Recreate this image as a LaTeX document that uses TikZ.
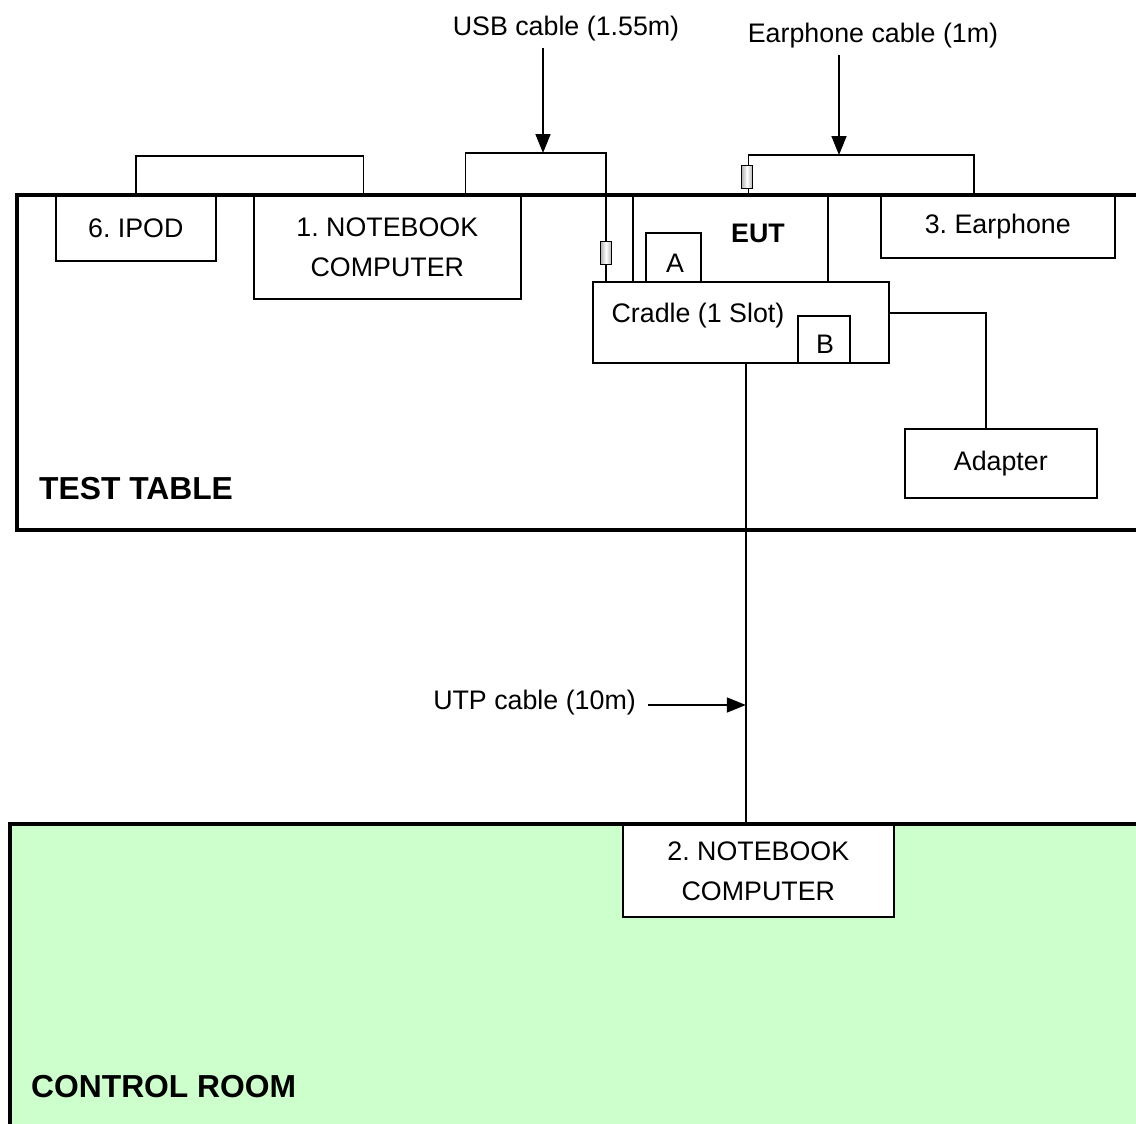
\documentclass[tikz,border=0pt]{standalone}
\usepackage{fontspec}
\setmainfont{Liberation Sans}
\usetikzlibrary{arrows.meta}
\frenchspacing
\definecolor{roomgreen}{HTML}{CCFFCC}
\tikzset{
	box/.style={draw,line width=1.6pt,fill=white,anchor=north west,inner sep=0pt,align=center,font=\fontsize{26.8}{40}\selectfont},
	cable/.style={line width=1.6pt},
	pointer/.style={line width=1.6pt,-{Triangle[length=19pt,width=15pt]}},
	frame/.style={line width=4.5pt},
	ferrite/.style={draw,line width=1.2pt,inner sep=0pt,minimum width=11pt,minimum height=23pt,left color=gray!60,right color=gray!60,middle color=white},
	txt/.style={font=\fontsize{26.8}{40}\selectfont,inner sep=0pt},
	title/.style={font=\fontsize{31.8}{38}\selectfont\bfseries,inner sep=0pt,anchor=west}
}
\begin{document}
\begin{tikzpicture}[x=1pt,y=-1pt]
	\clip (0,0) rectangle (1136,1124);
	\fill[white] (0,0) rectangle (1136,1124);
	\fill[roomgreen] (10,824) rectangle (1160,1140);
	% test table
	\node[box,minimum width=160,minimum height=65] (ipod) at (55,195) {6. IPOD};
	\node[box,minimum width=267,minimum height=103] (nb1) at (253,195) {1. NOTEBOOK\\COMPUTER};
	\node[box,minimum width=195,minimum height=86] (eut) at (632,195) {};
	\node[txt,font=\fontsize{26.8}{32}\selectfont\bfseries] (eutlbl) at (758,233) {EUT};
	\node[box,minimum width=55,minimum height=49] (porta) at (645,232) {};
	\node[txt] (portalbl) at (675,263) {A};
	\node[box,minimum width=296,minimum height=81] (cradle) at (592,281) {};
	\node[txt] (cradlelbl) at (698,316) {Cradle (1 Slot)};
	\node[box,minimum width=52,minimum height=47] (portb) at (797,315) {};
	\node[txt] (portblbl) at (825,344) {B};
	\node[box,minimum width=234,minimum height=62] (earph) at (880,195) {3. Earphone};
	\node[box,minimum width=192,minimum height=69] (adapter) at (904,428) {Adapter};
	\node[title] (tablelbl) at (39,489) {TEST TABLE};
	% control room
	\node[box,minimum width=271,minimum height=92] (nb2) at (622,824) {2. NOTEBOOK\\COMPUTER};
	\node[title] (roomlbl) at (31,1087) {CONTROL ROOM};
	% cables
	\coordinate (usbtop) at (543,153);
	\coordinate (eartop) at (839,155);
	\draw[cable] (ipod.north) -- ++(0,-39) -| ([xshift=-24]nb1.north);
	\draw[cable] ([xshift=78]nb1.north) |- (usbtop) -| ([xshift=14]cradle.north west);
	\draw[cable] ([xshift=18]eut.north) |- (eartop) -| ([xshift=-24]earph.north);
	\draw[cable] ([yshift=9.5]cradle.east) -| ([xshift=-15]adapter.north);
	\draw[cable] ([xshift=5]cradle.south) coordinate (utpa) -- (utpa |- nb2.north);
	\node[ferrite] (usbcore) at (606,253) {};
	\node[ferrite] (earcore) at (747,177) {};
	% labels
	\node[txt] (usblbl) at (566,29) {USB cable (1.55m)};
	\node[txt] (earlbl) at (873,36) {Earphone cable (1m)};
	\node[txt,anchor=east] (utplbl) at (636,703) {UTP cable (10m)};
	\draw[pointer] ([xshift=-23pt,yshift=-6pt]usblbl.south) -- (usbtop);
	\draw[pointer] ([xshift=-34pt,yshift=-6pt]earlbl.south) -- (eartop);
	\draw[pointer] ([xshift=12pt,yshift=-2pt]utplbl.east) -- ([yshift=-2pt]utplbl.east -| utpa);
	% frames
	\draw[frame] (1160,195) -- (17,195) -- (17,530) -- (1160,530);
	\draw[frame] (1160,824) -- (10,824) -- (10,1140);
\end{tikzpicture}
\end{document}
